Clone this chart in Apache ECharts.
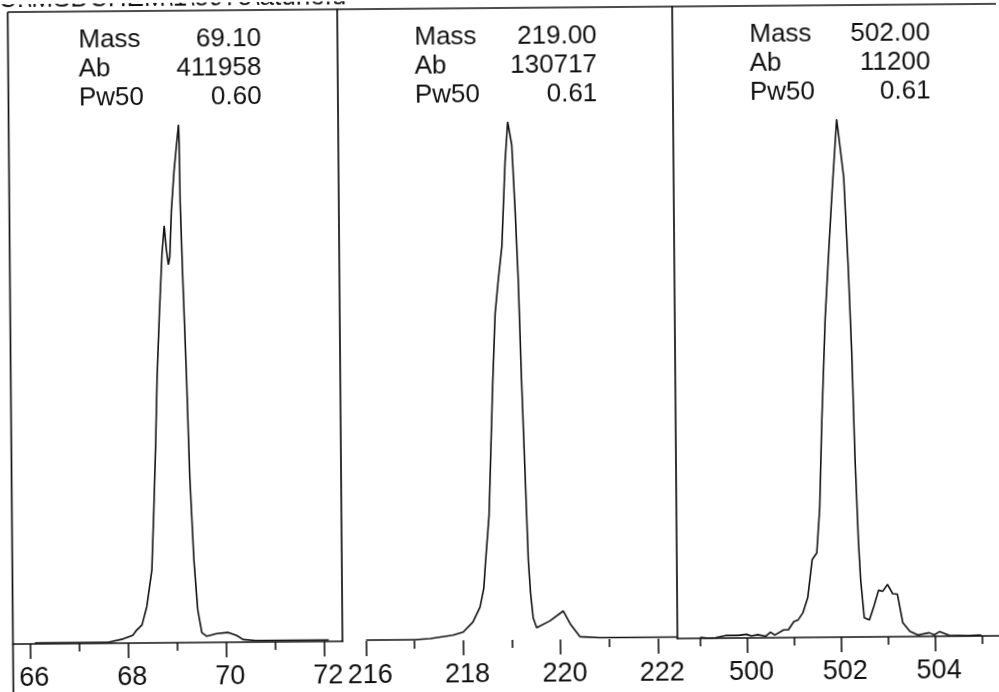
<!DOCTYPE html>
<html>
<head>
<meta charset="utf-8">
<script src="https://cdn.jsdelivr.net/npm/echarts@6/dist/echarts.min.js"></script>
<style>
html,body{margin:0;padding:0;background:#fff;overflow:hidden;}
#chart{width:999px;height:692px;transform:rotate(-0.48deg);transform-origin:50% 50%;}
</style>
</head>
<body>
<div id="chart"></div>
<script>
// ---- data ----
const titleText = 'C:\\MSDCHEM\\1\\5975\\atune.u';

// panel 1 : mass 69
const p1Mass  = [66.1, 66.8, 67.6, 67.9, 68.1, 68.18, 68.29, 68.39, 68.5, 68.55, 68.6, 68.64, 68.7, 68.76, 68.81, 68.85, 68.89, 68.92, 68.96, 69.02, 69.08, 69.12, 69.13, 69.14, 69.18, 69.24, 69.29, 69.36, 69.43, 69.51, 69.61, 69.81, 70.05, 70.22, 70.35, 70.6, 71.0, 71.5, 72.1];
const p1Abund = [0.2, 0.2, 0.2, 0.8, 1.5, 2.5, 3.5, 7, 14, 25.6, 38.5, 51.3, 64, 75, 80.5, 76, 73, 74.5, 83.4, 91, 96.5, 100, 96.3, 85.3, 70.6, 51.3, 32, 16, 6.3, 1.9, 1.2, 1.7, 1.9, 1.3, 0.5, 0.3, 0.3, 0.3, 0.3];

// panel 2 : mass 219
const p2Mass  = [216.0, 216.5, 217.0, 217.32, 217.79, 218.0, 218.2, 218.35, 218.43, 218.47, 218.55, 218.6, 218.65, 218.71, 218.78, 218.86, 218.94, 219.0, 219.08, 219.14, 219.19, 219.24, 219.3, 219.35, 219.39, 219.44, 219.51, 219.78, 220.06, 220.2, 220.4, 220.8, 221.5, 222.4];
const p2Abund = [0.2, 0.2, 0.2, 0.4, 1.0, 1.6, 3.5, 6.4, 10, 15, 24, 37, 50, 63, 69.5, 76, 92.3, 100, 95.6, 82.6, 69.7, 50.5, 31.3, 15.3, 9, 4.2, 2.3, 3.6, 5.5, 3, 0.5, 0.3, 0.3, 0.3];

// panel 3 : mass 502
const p3Mass  = [499.0, 499.19, 499.33, 499.54, 499.81, 499.99, 500.09, 500.23, 500.4, 500.5, 500.59, 500.78, 500.88, 501.0, 501.09, 501.19, 501.3, 501.4, 501.5, 501.57, 501.63, 501.72, 501.81, 501.89, 502.0, 502.14, 502.22, 502.28, 502.33, 502.39, 502.43, 502.5, 502.61, 502.71, 502.81, 502.9, 503.0, 503.11, 503.21, 503.32, 503.47, 503.64, 503.88, 503.99, 504.1, 504.3, 504.71, 504.99];
const p3Abund = [0.2, 0, 0.1, 0.5, 0.5, 0.7, 0.4, 0.6, 0.3, 1.1, 0.5, 1.5, 1.5, 3.1, 3.4, 4.7, 7.7, 15, 16.3, 25, 41.6, 61.5, 74.8, 86, 100, 88.8, 71.5, 54.9, 34.9, 18.3, 11, 3.7, 3.3, 6, 9, 8.8, 10.1, 8.3, 8.2, 2.7, 1, 0.3, 0.7, 0.3, 0.9, 0.2, 0.1, 0.2];

// axis ranges and tick labels
const axisMin    = [65.653, 215.517, 498.515];
const axisMax    = [72.378, 222.40, 505.42];
const majorTicks = [[66, 68, 70, 72], [216, 218, 220, 222], [500, 502, 504]];
const minorTicks = [[67, 69, 71], [217, 219, 221], [499, 501, 503, 505]];

// peak info boxes
const infoNames = ['Mass', 'Ab', 'Pw50'];
const peakMass  = ['69.10', '219.00', '502.00'];
const peakAb    = ['411958', '130717', '11200'];
const peakPw50  = ['0.60', '0.61', '0.61'];

// ---- layout / style ----
const INK = '#111';
const FONT = '"Liberation Sans", Arial, sans-serif';
const gridLeft  = [10.5, 340, 675];
const gridWidth = [329.5, 335, 335];
const GRID_TOP = 8, GRID_BOTTOM = 52;
const infoLeft  = [81, 417, 752];
const infoRight = [263.6, 599.3, 932.6];
const infoRowY  = [37, 66, 95];

const masses = [p1Mass, p2Mass, p3Mass];
const abunds = [p1Abund, p2Abund, p3Abund];

const grids = [], xAxes = [], yAxes = [], series = [];
for (let i = 0; i < 3; i++) {
  grids.push({left: gridLeft[i], width: gridWidth[i], top: GRID_TOP, bottom: GRID_BOTTOM, containLabel: false});
  xAxes.push({
    type: 'value', gridIndex: i, min: axisMin[i], max: axisMax[i], position: 'bottom',
    axisLine: {show: i !== 1, onZero: false, lineStyle: {color: INK, width: 1.7}},
    axisTick: {show: true, customValues: majorTicks[i], length: 15, lineStyle: {color: INK, width: 1.6}},
    axisLabel: {show: true, customValues: majorTicks[i], margin: 21, fontSize: 27, fontFamily: FONT,
                color: INK, padding: [0, 0, 0, 8], formatter: v => String(v)},
    splitLine: {show: false}
  });
  xAxes.push({
    type: 'value', gridIndex: i, min: axisMin[i], max: axisMax[i], position: 'bottom',
    axisLine: {show: false, onZero: false},
    axisTick: {show: true, customValues: minorTicks[i], length: 8, lineStyle: {color: INK, width: 1.6}},
    axisLabel: {show: false},
    splitLine: {show: false}
  });
  yAxes.push({
    type: 'value', gridIndex: i, min: 0, max: 122,
    axisLine: {show: i > 0, onZero: false, lineStyle: {color: INK, width: 1.7}},
    axisTick: {show: false}, axisLabel: {show: false}, splitLine: {show: false}
  });
  series.push({
    type: 'line', xAxisIndex: 2 * i, yAxisIndex: i,
    data: masses[i].map((m, k) => [m, abunds[i][k]]),
    showSymbol: false, symbol: 'none',
    lineStyle: {color: INK, width: 1.6}, itemStyle: {color: INK},
    clip: true, animation: false
  });
}

const graphics = [
  {type: 'line', shape: {x1: gridLeft[0], y1: GRID_TOP, x2: 1015, y2: GRID_TOP}, style: {stroke: INK, lineWidth: 1.7}},
  {type: 'line', shape: {x1: gridLeft[0], y1: GRID_TOP, x2: gridLeft[0], y2: 705}, style: {stroke: INK, lineWidth: 1.7}},
  {type: 'text', x: 1, y: -4, style: {text: titleText, font: '26px ' + FONT, fill: INK, align: 'left', verticalAlign: 'middle'}}
];
const infoValues = [peakMass, peakAb, peakPw50];
for (let i = 0; i < 3; i++) {
  for (let r = 0; r < 3; r++) {
    graphics.push({type: 'text', x: infoLeft[i], y: infoRowY[r],
      style: {text: infoNames[r], font: '26px ' + FONT, fill: INK, align: 'left', verticalAlign: 'middle'}});
    graphics.push({type: 'text', x: infoRight[i], y: infoRowY[r],
      style: {text: infoValues[r][i], font: '26px ' + FONT, fill: INK, align: 'right', verticalAlign: 'middle'}});
  }
}

const chart = echarts.init(document.getElementById('chart'), null, {renderer: 'canvas'});
chart.setOption({
  backgroundColor: '#fff',
  animation: false,
  grid: grids,
  xAxis: xAxes,
  yAxis: yAxes,
  series: series,
  graphic: graphics
});
</script>
</body>
</html>
